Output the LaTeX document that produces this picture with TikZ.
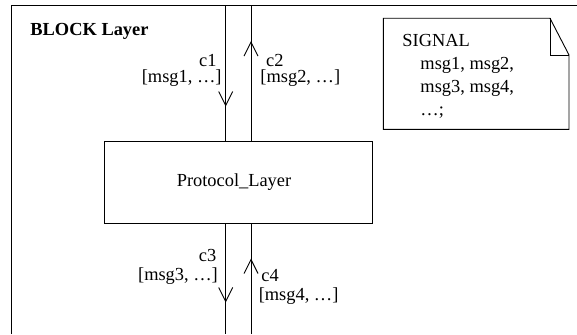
\documentclass[tikz,border=0pt]{standalone}
\usepackage{fontspec}
\setmainfont{Liberation Serif}
\usetikzlibrary{arrows.meta,decorations.markings}
\begin{document}
\begin{tikzpicture}[x=1pt,y=-1pt,line width=0.9pt,
  txt/.style={inner sep=0pt,font=\fontsize{18.4}{22}\selectfont},
  boldtxt/.style={txt,font=\fontsize{18.4}{22}\selectfont\bfseries},
  chan/.style={draw},
  midarrow/.style={postaction={decorate},decoration={markings,
    mark=at position #1 with {\arrow{Straight Barb[length=14pt,width=14pt,line width=0.9pt]}}}}]
\useasboundingbox (0,0) rectangle (577,334);
% frame
\coordinate (fbl) at (11,334);
\coordinate (ftl) at (11,5.5);
\coordinate (ftr) at (577,5.5);
\draw (fbl) -- (ftl) -- (ftr);
\node[boldtxt,anchor=base west] (title) at (30,35.5) {BLOCK Layer};
% protocol block
\node[draw,txt,minimum width=268pt,minimum height=82pt] (proto) at (238,182) {Protocol\_Layer\hspace*{8pt}};
% channel ends
\coordinate (c1top) at (225.7,5.5);
\coordinate (c2top) at (251,5.5);
\coordinate (c3bot) at (225.7,334);
\coordinate (c4bot) at (251,334);
\draw[chan,midarrow=101pt] (c1top) -- (c1top |- proto.north);
\draw[chan,midarrow=99.5pt] (c2top |- proto.north) -- (c2top);
\draw[chan,midarrow=79pt] (c3bot |- proto.south) -- (c3bot);
\draw[chan,midarrow=75.5pt] (c4bot) -- (c4bot |- proto.south);
% channel labels
\node[txt,anchor=base east] (c1l) at (217,66.5) {c1};
\node[txt,anchor=base east] (m1l) at (222,83) {[msg1, …]};
\node[txt,anchor=base west] (c2l) at (265.7,66.5) {c2};
\node[txt,anchor=base west] (m2l) at (260,83) {[msg2, …]};
\node[txt,anchor=base east] (c3l) at (216.7,261) {c3};
\node[txt,anchor=base east] (m3l) at (218.3,280) {[msg3, …]};
\node[txt,anchor=base west] (c4l) at (261,281) {c4};
\node[txt,anchor=base west] (m4l) at (258.3,300) {[msg4, …]};
% signal note
\draw (383.3,18.3) -- (550,18.3) -- (569,55) -- (569,129.3) -- (383.3,129.3) -- cycle;
\draw (550,18.3) -- (550,55) -- (569,55);
\node[txt,anchor=base west] (sig) at (402,46.5) {SIGNAL};
\node[txt,anchor=base west] (s1) at (420,69.5) {msg1, msg2,};
\node[txt,anchor=base west] (s2) at (420,92.5) {msg3, msg4,};
\node[txt,anchor=base west] (s3) at (420,115.5) {…;};
\end{tikzpicture}
\end{document}
